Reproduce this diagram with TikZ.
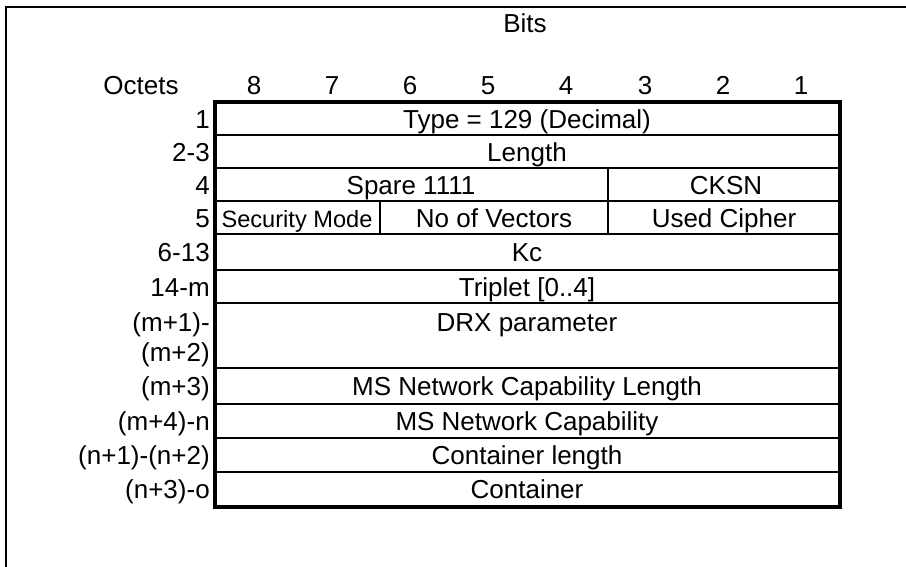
\documentclass[tikz,border=0pt]{standalone}
\usepackage{fontspec}
\setmainfont{Liberation Sans}
\usetikzlibrary{positioning}

\tikzset{
  txt/.style={anchor=base, inner sep=0pt, font=\fontsize{19.5}{23}\selectfont},
  small/.style={txt, font=\fontsize{17.7}{21}\selectfont},
  octet/.style={txt, anchor=base east},
  rowline/.style={line width=2.1pt},
  divider/.style={line width=1.1pt},
  frame/.style={line width=2.6pt}
}

\begin{document}
\begin{tikzpicture}[x=0.75pt, y=-0.75pt]
\useasboundingbox (0,0) rectangle (906,567);
\draw[line width=1.5pt] (6,567) |- (906,7);

% heading
\node[txt] (bits)   at (525,33)  {Bits};
\node[txt] (octets) at (141,94)  {Octets};
\node[txt] (b8) at (254,94) {8};
\node[txt] (b7) at (332,94) {7};
\node[txt] (b6) at (410,94) {6};
\node[txt] (b5) at (488,94) {5};
\node[txt] (b4) at (566,94) {4};
\node[txt] (b3) at (645,94) {3};
\node[txt] (b2) at (723,94) {2};
\node[txt] (b1) at (801,94) {1};

% rows
\draw[rowline] (215,102) rectangle (840,135);
\draw[rowline] (215,135) rectangle (840,168);
\draw[rowline] (215,168) rectangle (840,201);
\draw[rowline] (215,201) rectangle (840,234);
\draw[rowline] (215,234) rectangle (840,270);
\draw[rowline] (215,270) rectangle (840,303);
\draw[rowline] (215,303) rectangle (840,368);
\draw[rowline] (215,368) rectangle (840,404);
\draw[rowline] (215,404) rectangle (840,438);
\draw[rowline] (215,438) rectangle (840,472);
\draw[rowline] (215,472) rectangle (840,507);
\draw[divider] (608,168) -- (608,201);
\draw[divider] (380,201) -- (380,234);
\draw[divider] (608,201) -- (608,234);
\draw[frame] (215,102) rectangle (840,507);

% octet numbers
\node[octet] (o1)  at (210,128) {1};
\node[octet] (o2)  at (210,161) {2-3};
\node[octet] (o4)  at (210,194) {4};
\node[octet] (o5)  at (210,227) {5};
\node[octet] (o6)  at (210,261) {6-13};
\node[octet] (o14) at (210,296) {14-m};
\node[octet] (om1) at (210,331) {(m+1)-};
\node[octet] (om2) at (210,361) {(m+2)};
\node[octet] (om3) at (210,395) {(m+3)};
\node[octet] (om4) at (210,430) {(m+4)-n};
\node[octet] (on1) at (210,464) {(n+1)-(n+2)};
\node[octet] (on3) at (210,498) {(n+3)-o};

% fields
\node[txt]   (type)    at (527,128) {Type = 129 (Decimal)};
\node[txt]   (length)  at (527,161) {Length};
\node[txt]   (spare)   at (411,194) {Spare 1111};
\node[txt]   (cksn)    at (726,194) {CKSN};
\node[small] (secmode) at (297,227) {Security Mode};
\node[txt]   (vectors) at (494,227) {No of Vectors};
\node[txt]   (cipher)  at (724,227) {Used Cipher};
\node[txt]   (kc)      at (527,261) {Kc};
\node[txt]   (triplet) at (527,296) {Triplet [0..4]};
\node[txt]   (drx)     at (527,331) {DRX parameter};
\node[txt]   (mslen)   at (527,395) {MS Network Capability Length};
\node[txt]   (mscap)   at (527,430) {MS Network Capability};
\node[txt]   (contlen) at (527,464) {Container length};
\node[txt]   (cont)    at (527,498) {Container};
\end{tikzpicture}
\end{document}
